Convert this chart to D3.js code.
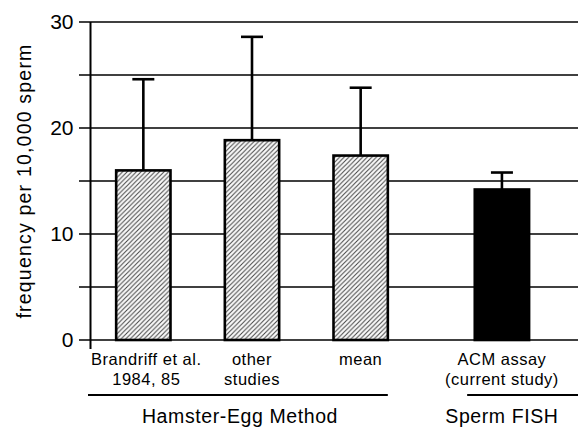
<!DOCTYPE html>
<html>
<head>
<meta charset="utf-8">
<script src="https://cdn.jsdelivr.net/npm/d3@7"></script>
<style>
  body { margin: 0; background: #fff; }
  text { font-family: "Liberation Sans", Arial, Helvetica, sans-serif; fill: #000; }
</style>
</head>
<body>
<div id="graph"></div>
<script>
// data
let categories = [["Brandriff et al.", "1984, 85"], ["other", "studies"], ["mean", ""], ["ACM assay", "(current study)"]];
let groupOf = [0, 0, 0, 1];
let values = [16.0, 18.85, 17.4, 14.2];
let errTop = [24.6, 28.6, 23.8, 15.8];
let groups = ["Hamster-Egg Method", "Sperm FISH"];
let yTicks = [0, 10, 20, 30];
let gridTicks = [0, 5, 10, 15, 20, 25, 30];

let width = 578, height = 431;

let svg = d3.select("#graph")
    .append("svg")
    .attr("width", width)
    .attr("height", height);

// hatch pattern for the hamster-egg bars
let defs = svg.append("defs");
let pat = defs.append("pattern")
    .attr("id", "hatch")
    .attr("patternUnits", "userSpaceOnUse")
    .attr("width", 4.6)
    .attr("height", 4.6);
pat.append("rect").attr("width", 4.6).attr("height", 4.6).attr("fill", "#fafafa");
pat.append("path")
    .attr("d", "M-1,1 l2,-2 M0,4.6 l4.6,-4.6 M3.6,5.6 l2,-2")
    .attr("stroke", "#444")
    .attr("stroke-width", 1);

// slot position: bars side by side, extra gap before second group
let slot = (d, i) => i + groupOf[i] * 0.3;

let x = d3.scaleLinear()
    .domain([-0.5, 4])
    .range([89, 578]);
let bw = x(0.5) - x(0);

let y = d3.scaleLinear()
    .domain([0, 30])
    .range([340, 22]);

// grid lines (behind bars)
svg.append("g").selectAll("line")
    .data(gridTicks)
    .enter()
    .append("line")
    .attr("x1", 79)
    .attr("x2", width)
    .attr("y1", d => y(d))
    .attr("y2", d => y(d))
    .attr("stroke", "#000")
    .attr("stroke-width", 1.5);

// y axis
let yAxis = svg.append("g")
    .attr("transform", `translate(${x(-0.5) + 1.5},0)`)
    .call(d3.axisLeft(y).tickValues(yTicks).tickSize(0).tickPadding(17));
yAxis.select(".domain").remove();
yAxis.selectAll("text")
    .style("font-size", "21px")
    .style("font-family", "'Liberation Sans', Arial, sans-serif");

svg.append("line")
    .attr("x1", x(-0.5) + 1.5)
    .attr("x2", x(-0.5) + 1.5)
    .attr("y1", y(30))
    .attr("y2", y(0) + 9)
    .attr("stroke", "#000")
    .attr("stroke-width", 2);

// y axis title
svg.append("text")
    .attr("transform", `translate(31,${(y(0) + y(30)) / 2}) rotate(-90)`)
    .style("text-anchor", "middle")
    .style("font-size", "19.5px")
    .style("letter-spacing", "1.2px")
    .text("frequency per 10,000 sperm");

// error bars
let err = svg.append("g").selectAll("g")
    .data(values)
    .enter()
    .append("g");
err.append("line")
    .attr("x1", (d, i) => x(slot(d, i)))
    .attr("x2", (d, i) => x(slot(d, i)))
    .attr("y1", d => y(d))
    .attr("y2", (d, i) => y(errTop[i]))
    .attr("stroke", "#000")
    .attr("stroke-width", 2.6);
err.append("line")
    .attr("x1", (d, i) => x(slot(d, i)) - 11)
    .attr("x2", (d, i) => x(slot(d, i)) + 11)
    .attr("y1", (d, i) => y(errTop[i]))
    .attr("y2", (d, i) => y(errTop[i]))
    .attr("stroke", "#000")
    .attr("stroke-width", 2.6);

// bars
svg.append("g").selectAll("rect")
    .data(values)
    .enter()
    .append("rect")
    .attr("x", (d, i) => x(slot(d, i)) - bw / 2)
    .attr("y", d => y(d))
    .attr("width", bw)
    .attr("height", d => y(0) - y(d))
    .attr("fill", (d, i) => groupOf[i] == 0 ? "url(#hatch)" : "#000")
    .attr("stroke", "#000")
    .attr("stroke-width", 2.6);

// category labels (two lines)
let labels = svg.append("g").selectAll("text")
    .data(categories)
    .enter()
    .append("text")
    .attr("x", (d, i) => x(slot(d, i)) + (i == 0 ? 3 : 0))
    .attr("y", 365)
    .style("text-anchor", "middle")
    .style("font-size", "16.5px")
    .style("letter-spacing", "0.5px");
labels.append("tspan")
    .attr("x", (d, i) => x(slot(d, i)) + (i == 0 ? 3 : 0))
    .text(d => d[0]);
labels.append("tspan")
    .attr("x", (d, i) => x(slot(d, i)) + (i == 0 ? 3 : 0))
    .attr("dy", 20)
    .text(d => d[1]);

// group underlines and names
let groupSpan = [[x(-0.5) - 1, x(2.25)], [x(2.98), width]];
svg.append("g").selectAll("line")
    .data(groups)
    .enter()
    .append("line")
    .attr("x1", (d, i) => groupSpan[i][0])
    .attr("x2", (d, i) => groupSpan[i][1])
    .attr("y1", 395)
    .attr("y2", 395)
    .attr("stroke", "#000")
    .attr("stroke-width", 2);

let groupCenter = [240, x(3.3)];
svg.append("g").selectAll("text")
    .data(groups)
    .enter()
    .append("text")
    .attr("x", (d, i) => groupCenter[i])
    .attr("y", 423)
    .style("text-anchor", "middle")
    .style("font-size", "19.5px")
    .style("letter-spacing", "0.6px")
    .text(d => d);
</script>
</body>
</html>
